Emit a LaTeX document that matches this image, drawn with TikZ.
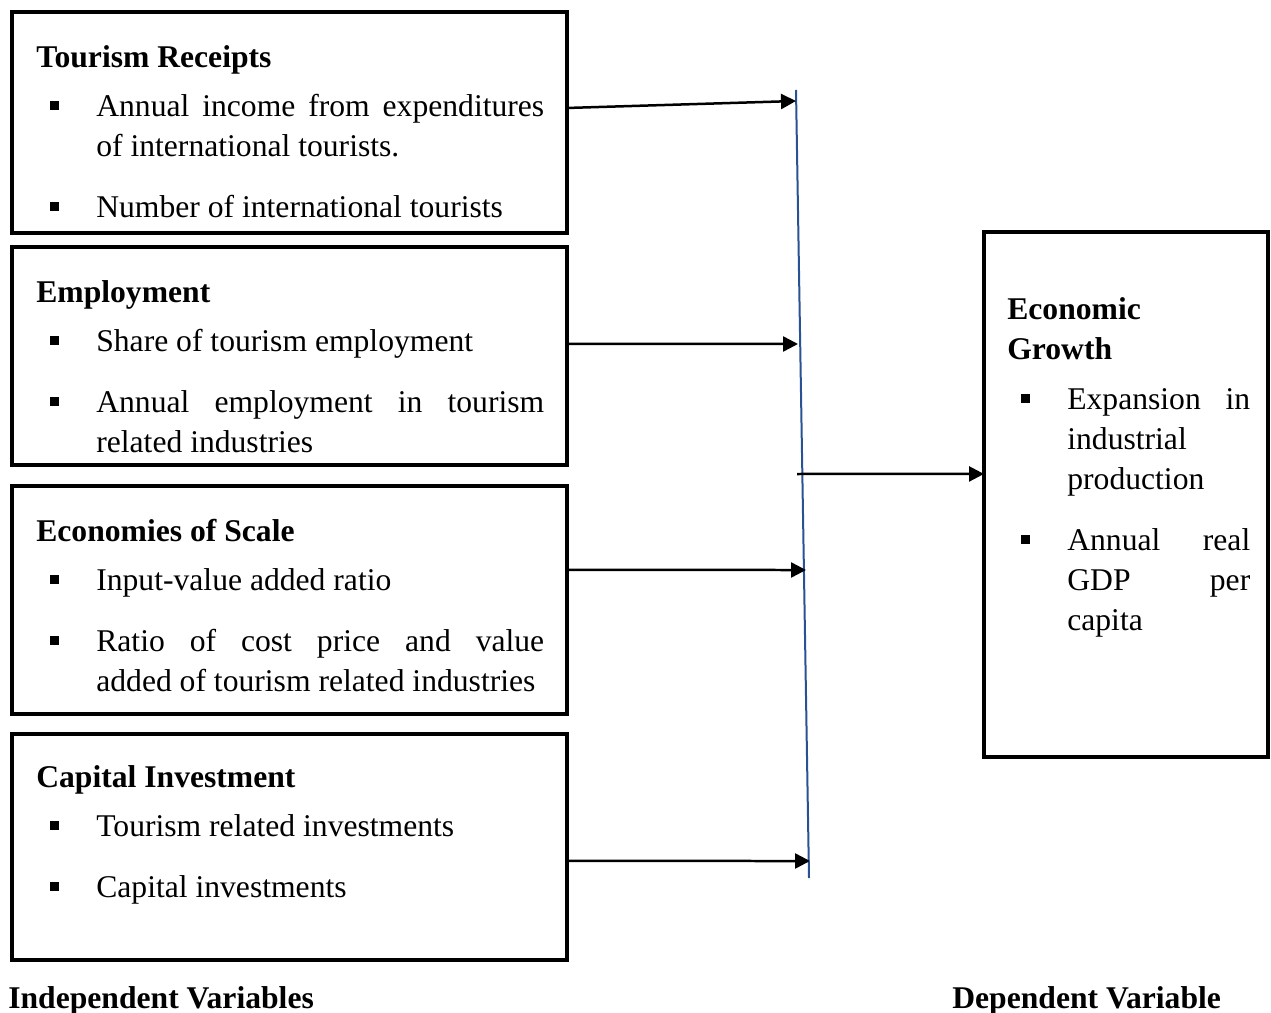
\documentclass[tikz,border=0pt]{standalone}
\usepackage{fontspec}
\setmainfont{Liberation Serif}
\usetikzlibrary{arrows.meta}
\definecolor{splitblue}{RGB}{41,82,148}
\def\bulletindent{1.2cm}
\newcommand{\sqitem}[2][0.42cm]{\par\vspace{#1}\hangindent=\bulletindent\hangafter=1\noindent\makebox[\bulletindent][l]{\hspace{0.27cm}\rule[0.12cm]{0.18cm}{0.18cm}}#2\par}

\begin{document}
\begin{tikzpicture}[x=0.02cm, y=-0.02cm, font=\fontsize{18pt}{22.76pt}\selectfont]
	\tikzset{
		varbox/.style={draw, line width=0.08cm, anchor=north west, inner sep=0, outer sep=0, minimum width=11.1cm},
		boxtext/.style={anchor=north west, inner sep=0, text width=10.16cm, align=justify},
		conn/.style={-{Triangle[length=0.3cm, width=0.3cm]}, line width=0.05cm},
		caption/.style={anchor=base west, inner sep=0, font=\fontsize{18pt}{22.76pt}\selectfont\bfseries}
	}
	\useasboundingbox (0,0) rectangle (1271,1013);

	\node[varbox, minimum height=4.42cm] (receipts) at (12,12) {};
	\node[boxtext] (receiptstext) at ([xshift=0.48cm]receipts.north west) {\noindent\rule{0pt}{1.1cm}{\bfseries Tourism Receipts}
		\sqitem[0.18cm]{Annual income from expenditures\linebreak of international tourists.}
		\sqitem{Number of international tourists}};

	\node[varbox, minimum height=4.36cm] (employ) at (12,247) {};
	\node[boxtext] (employtext) at ([xshift=0.48cm]employ.north west) {\noindent\rule{0pt}{1.1cm}{\bfseries Employment}
		\sqitem[0.18cm]{Share of tourism employment}
		\sqitem{Annual employment in tourism\linebreak related industries}};

	\node[varbox, minimum height=4.56cm] (scale) at (12,486) {};
	\node[boxtext] (scaletext) at ([xshift=0.48cm]scale.north west) {\noindent\rule{0pt}{1.1cm}{\bfseries Economies of Scale}
		\sqitem[0.18cm]{Input-value added ratio}
		\sqitem{Ratio of cost price and value\linebreak added of tourism related industries}};

	\node[varbox, minimum height=4.52cm] (capital) at (12,734) {};
	\node[boxtext] (capitaltext) at ([xshift=0.48cm]capital.north west) {\noindent\rule{0pt}{1.06cm}{\bfseries Capital Investment}
		\sqitem[0.18cm]{Tourism related investments}
		\sqitem{Capital investments}};

	\node[varbox, minimum width=5.68cm, minimum height=10.5cm] (growth) at (984,232) {};
	\node[boxtext, text width=4.86cm] (growthtext) at ([xshift=0.46cm]growth.north west) {\noindent\rule{0pt}{1.74cm}{\bfseries Economic\newline Growth}
		\sqitem[0.2cm]{Expansion in\linebreak industrial\newline production}
		\sqitem{Annual real\linebreak GDP per\linebreak capita}};

	\coordinate (ltop) at (796,90);
	\coordinate (lbot) at (809,878);
	\coordinate (in1) at (796,101);
	\coordinate (in2) at (798,344);
	\coordinate (in3) at (806,570);
	\coordinate (in4) at (810,861);
	\coordinate (hub) at (797,474);
	\draw[splitblue, line width=0.04cm] (ltop) -- (lbot);

	\draw[conn] ([yshift=0.29cm]receipts.east) -- (in1);
	\draw[conn] ([yshift=0.24cm]employ.east) -- (in2);
	\draw[conn] ([yshift=0.6cm]scale.east) -- (in3);
	\draw[conn] ([yshift=-0.28cm]capital.east) -- (in4);
	\draw[conn] (hub) -- ([yshift=0.41cm]growth.west);

	\node[caption] (indep) at (8,1008) {Independent Variables};
	\node[caption] (dep) at (952,1008) {Dependent Variable};
\end{tikzpicture}
\end{document}
